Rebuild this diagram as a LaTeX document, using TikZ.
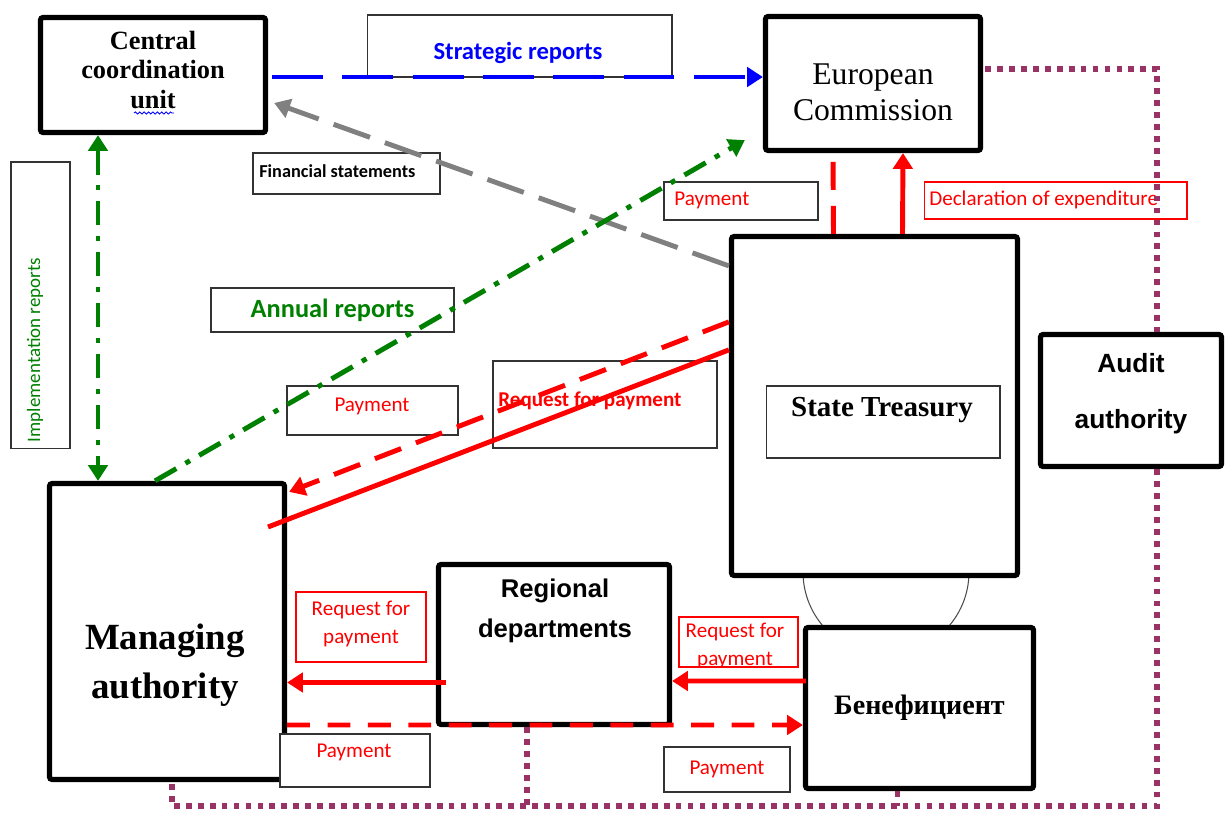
\documentclass[tikz,border=0pt]{standalone}
\usepackage{fontspec}
\setmainfont{Liberation Serif}
\newfontfamily\calibri{Carlito}
\newfontfamily\arial{Liberation Sans}
\usepackage{xcolor}
\usetikzlibrary{arrows.meta,calc,decorations.pathmorphing}
\definecolor{plum}{HTML}{993366}
\definecolor{dkgreen}{RGB}{0,128,0}
\tikzset{
	>={Triangle[length=9pt,width=11pt]},
	unitbox/.style={draw, line width=3pt, rounded corners=1.5pt, fill=white, inner sep=0pt},
	tagbox/.style={draw=black!80, line width=0.6pt, fill=white, inner sep=0pt},
	redbox/.style={draw=red, line width=0.6pt, fill=white, inner sep=0pt},
	tagtxt/.style={font=\calibri\fontsize{12}{16}\selectfont, text=red, inner sep=0pt},
	flow/.style={line width=2.8pt},
	audit/.style={draw=plum, line width=3.3pt, dash pattern=on 3.3pt off 3.5pt},
}

\begin{document}
\begin{tikzpicture}[x=0.02cm, y=-0.02cm]
		\useasboundingbox (0,0) rectangle (1225,817);
		% link between treasury and beneficiary
		\draw[black!70, line width=0.6pt] (886,572) circle (1.66cm);
		% main bodies
		\node[unitbox, minimum width=4.5cm, minimum height=2.3cm] (ccu) at (153,75) {};
		\node[align=center, font=\bfseries\fontsize{15}{17}\selectfont] (ccutxt) at (153,70) {Central\\coordination\\unit};
		\draw[blue, line width=0.5pt, decorate, decoration={snake, amplitude=0.6pt, segment length=2.5pt}] (134,113) -- (174,113);
		\node[unitbox, minimum width=4.3cm, minimum height=2.68cm] (ec) at (873,83.5) {};
		\node[align=center, font=\fontsize{18}{20.5}\selectfont] (ectxt) at (873,92) {European\\Commission};
		\node[unitbox, minimum width=5.72cm, minimum height=6.78cm] (st) at (874.5,406) {};
		\node[tagbox, minimum width=4.68cm, minimum height=1.44cm] (stbox) at (883,422) {};
		\node[font=\bfseries\fontsize{16.5}{20}\selectfont] (sttxt) at (882,410) {State Treasury};
		\node[unitbox, minimum width=4.7cm, minimum height=5.92cm] (ma) at (167,631.5) {};
		\node[align=center, font=\bfseries\fontsize{21}{28}\selectfont] (matxt) at (165,665) {Managing\\authority};
		\node[unitbox, minimum width=4.62cm, minimum height=3.2cm] (rd) at (554,644.5) {};
		\node[align=center, font=\arial\bfseries\fontsize{14.6}{23}\selectfont] (rdtxt) at (555,611) {Regional\\departments};
		\node[unitbox, minimum width=4.56cm, minimum height=3.22cm, font=\bfseries\fontsize{16}{20}\selectfont] (ben) at (919.5,708) {Бенефициент};
		\node[unitbox, minimum width=3.62cm, minimum height=2.64cm] (aa) at (1131,400.5) {};
		\node[align=center, font=\arial\bfseries\fontsize{15}{32}\selectfont] (aatxt) at (1131,394) {Audit\\authority};
		% labels of the flows
		\node[tagbox, minimum width=6.1cm, minimum height=1.24cm] (stratbox) at (519.5,46) {};
		\node[font=\calibri\bfseries\fontsize{14}{17}\selectfont, text=blue] (strattxt) at (518,53) {Strategic reports};
		\node[tagbox, minimum width=3.74cm, minimum height=0.82cm] (finbox) at (346.5,173.5) {};
		\node[right, inner sep=0pt, font=\calibri\bfseries\fontsize{10.4}{12}\selectfont] (fintxt) at (259,171) {Financial statements};
		\node[tagbox, minimum width=4.86cm, minimum height=0.88cm, font=\calibri\bfseries\fontsize{15}{18}\selectfont, text=dkgreen] (annual) at (332.5,310) {Annual reports};
		\node[tagbox, minimum width=1.18cm, minimum height=5.74cm] (implbox) at (40.5,305.5) {};
		\node[rotate=90, font=\calibri\fontsize{10.8}{13}\selectfont, text=dkgreen] (impltxt) at (35,350) {Implementation reports};
		\node[tagbox, minimum width=3.08cm, minimum height=0.76cm] (payecbox) at (741,201) {};
		\node[tagtxt, right] (payectxt) at (674,200) {Payment};
		\node[redbox, minimum width=5.26cm, minimum height=0.74cm] (declbox) at (1055.5,200.5) {};
		\node[tagtxt, right] (decltxt) at (929,200) {Declaration of expenditure};
		\node[tagbox, minimum width=3.42cm, minimum height=0.98cm] (paymidbox) at (372.5,410.5) {};
		\node[tagtxt] (paymidtxt) at (372,406) {Payment};
		\node[tagbox, minimum width=4.48cm, minimum height=1.74cm] (reqmidbox) at (605,404.5) {};
		\node[tagtxt, right, font=\calibri\bfseries\fontsize{12}{15}\selectfont] (reqmidtxt) at (498,401) {Request for payment};
		\node[redbox, minimum width=2.6cm, minimum height=1.4cm] (reqmabox) at (361,627) {};
		\node[tagtxt, align=center, font=\calibri\fontsize{12}{16.4}\selectfont] (reqmatxt) at (361,624) {Request for\\payment};
		\node[tagbox, minimum width=3cm, minimum height=1.06cm] (paymabox) at (355,760.5) {};
		\node[tagtxt] (paymatxt) at (354,752) {Payment};
		\node[redbox, minimum width=2.38cm, minimum height=1cm] (reqbenbox) at (738.5,642) {};
		\begin{scope}
			\clip (reqbenbox.south west) rectangle (reqbenbox.north east);
			\node[tagtxt, align=center] (reqbentxt) at (735,646) {Request for\\payment};
		\end{scope}
		\node[tagbox, minimum width=2.52cm, minimum height=0.9cm, tagtxt, inner sep=0pt] (payben) at (727,769.5) {Payment};
		% flows
		\draw[flow, ->, blue, dash pattern=on 29pt off 11pt] ($(ccu.east)+(4,2)$) -- ($(ec.west)+(0,-6.5)$);
		\draw[flow, ->, gray, dash pattern=on 22pt off 9pt] ($(st.north west)+(0,32)$) -- ($(ccu.east)+(6,28)$);
		\draw[flow, ->, dkgreen, dash pattern=on 14pt off 6pt on 3pt off 6pt] ($(ma.north)+(-12,0)$) -- ($(ec.south west)+(-18,-13)$);
		\draw[flow, <->, dkgreen, dash pattern=on 14pt off 6pt on 3pt off 6pt] ($(ccu.south)+(-55,0)$) -- ($(ma.north)+(-69,0)$);
		\draw[flow, ->, red, dash pattern=on 16pt off 9pt] ($(st.north west)+(0,88)$) -- ($(ma.north east)+(2,11)$);
		\coordinate (reqend) at (268,527);
		\draw[flow, red] ($(st.north west)+(0,116)$) -- (reqend);
		\draw[flow, red, dash pattern=on 16pt off 9pt] ($(st.north)+(-41,0)$) -- ($(ec.south)+(-40,0)$);
		\draw[flow, ->, red] ($(st.north)+(28,0)$) -- ($(ec.south)+(30,0)$);
		\draw[flow, ->, red] ($(rd.west)+(10,38)$) -- ($(ma.east)+(0,51)$);
		\draw[flow, ->, red] ($(ben.west)+(3,-27)$) -- ($(rd.east)+(0,36.5)$);
		\draw[flow, ->, red, dash pattern=on 13pt off 10pt] ($(ma.east)+(0,93.5)$) -- ($(ben.west)+(0,17)$);
		% audit lines
		\coordinate (auditcorner) at (1157,806);
		\draw[audit] ($(ec.north east)+(2,55)$) -| ($(aa.north)+(26,0)$);
		\draw[audit] ($(aa.south)+(26,0)$) -- (auditcorner) -| ($(ma.south)+(5,0)$);
		\draw[audit] ($(rd.south)+(-27,0)$) -- ($(rd.south)+(-27,79)$);
		\draw[audit] ($(ben.south)+(-22,0)$) -- ($(ben.south)+(-22,15)$);
\end{tikzpicture}
\end{document}
